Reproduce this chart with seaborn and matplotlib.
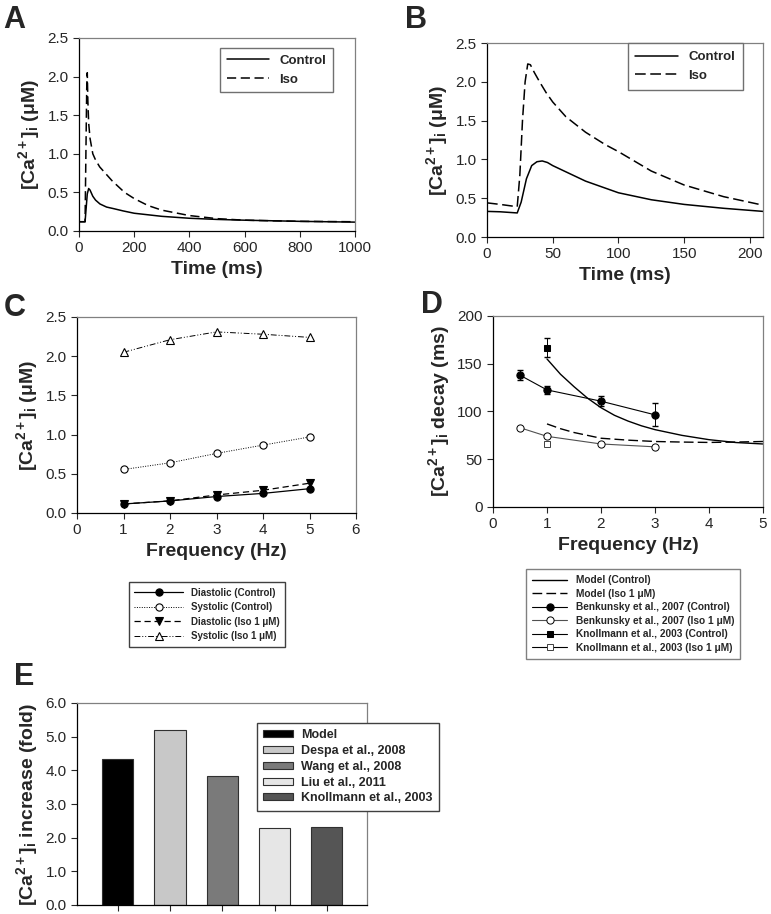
import numpy as np
import matplotlib
matplotlib.use('Agg')
import matplotlib.pyplot as plt
import seaborn as sns

# ---- panel A: transient at 1 Hz ----
tA_ctrl = [0, 22, 26, 30, 35, 40, 50, 60, 76, 100, 125, 160, 200, 300, 400, 500, 600, 800, 1000]
caA_ctrl = [0.12, 0.12, 0.30, 0.48, 0.55, 0.53, 0.45, 0.40, 0.35, 0.31, 0.29, 0.26, 0.23, 0.19, 0.165, 0.15, 0.14, 0.125, 0.115]
tA_iso = [0, 22, 25, 28, 30, 32, 35, 40, 50, 60, 75, 95, 120, 165, 200, 250, 300, 400, 500, 600, 800, 1000]
caA_iso = [0.12, 0.12, 1.0, 1.85, 2.05, 1.70, 1.40, 1.20, 1.00, 0.92, 0.83, 0.75, 0.65, 0.50, 0.42, 0.33, 0.27, 0.20, 0.16, 0.14, 0.125, 0.12]

# ---- panel B: zoomed transient ----
tB_ctrl = [0, 10, 23, 26, 30, 34, 38, 42, 46, 50, 60, 75, 100, 125, 150, 180, 210]
caB_ctrl = [0.33, 0.325, 0.31, 0.45, 0.75, 0.92, 0.97, 0.98, 0.96, 0.92, 0.84, 0.72, 0.57, 0.48, 0.42, 0.37, 0.33]
tB_iso = [0, 10, 23, 25, 27, 29, 31, 33, 36, 40, 45, 50, 60, 75, 90, 100, 125, 150, 180, 210]
caB_iso = [0.44, 0.42, 0.39, 0.80, 1.50, 2.00, 2.23, 2.22, 2.12, 2.00, 1.86, 1.74, 1.55, 1.35, 1.19, 1.10, 0.85, 0.67, 0.52, 0.41]

# ---- panel C: frequency dependence ----
freqC = [1, 2, 3, 4, 5]
dia_ctrl = [0.115, 0.154, 0.21, 0.25, 0.31]
sys_ctrl = [0.555, 0.64, 0.76, 0.866, 0.97]
dia_iso = [0.115, 0.155, 0.23, 0.29, 0.38]
sys_iso = [2.05, 2.21, 2.31, 2.28, 2.24]

# ---- panel D: decay time ----
freq_model = [1, 1.25, 1.5, 1.75, 2, 2.25, 2.5, 2.75, 3, 3.5, 4, 4.5, 5]
tau_model_ctrl = [155, 139, 126, 114, 104, 96, 90, 85, 81, 75, 70.5, 67.5, 66]
tau_model_iso = [87, 82, 78, 75, 72, 71, 70, 69.3, 68.6, 68, 67.6, 68, 68.6]
freq_benk = [0.5, 1, 2, 3]
tau_benk_ctrl = [138, 122.6, 110.8, 96.5]
err_benk_ctrl = [5, 4, 5, 12]
tau_benk_iso = [83, 74, 66, 63]
freq_knoll = [1]
tau_knoll_ctrl = [167]
err_knoll_ctrl = [10]
tau_knoll_iso = [66]

# ---- panel E: fold increase ----
studies = ['Model', 'Despa et al., 2008', 'Wang et al., 2008', 'Liu et al., 2011', 'Knollmann et al., 2003']
fold = [4.33, 5.2, 3.82, 2.3, 2.33]
bar_colors = ['#000000', '#c8c8c8', '#7a7a7a', '#e6e6e6', '#555555']

sns.set_style('ticks')
plt.rcParams['font.family'] = ['Liberation Sans', 'DejaVu Sans']
plt.rcParams['mathtext.fontset'] = 'custom'
plt.rcParams['mathtext.rm'] = 'Liberation Sans:bold'
plt.rcParams['mathtext.it'] = 'Liberation Sans:bold'
plt.rcParams['mathtext.bf'] = 'Liberation Sans:bold'
plt.rcParams['mathtext.default'] = 'bf'

fig = plt.figure(figsize=(7.71, 9.14), dpi=100)
W, H = 771, 914

def add_ax(l, t, r, b):
    return fig.add_axes([l / W, 1 - b / H, (r - l) / W, (b - t) / H])

def style(ax):
    for s in ['top', 'right']:
        ax.spines[s].set_color('#808080')
    for s in ['left', 'bottom']:
        ax.spines[s].set_color('black')
    for s in ax.spines.values():
        s.set_linewidth(0.9)
    ax.tick_params(direction='out', length=4, width=0.8, labelsize=11, top=False, right=False)

ylab = '[Ca$^{2+}$]$_i$ (\u03bcM)'
lab_kw = dict(fontsize=14, fontweight='bold')
fmt1 = matplotlib.ticker.FormatStrFormatter('%.1f')

# A
axA = add_ax(79, 38, 355, 231)
sns.lineplot(x=tA_ctrl, y=caA_ctrl, ax=axA, color='black', lw=1.1, label='Control')
sns.lineplot(x=tA_iso, y=caA_iso, ax=axA, color='black', lw=1.1, linestyle=(0, (6, 3)), label='Iso')
axA.set_xlim(0, 1000); axA.set_ylim(0, 2.5)
axA.set_yticks(np.arange(0, 2.51, 0.5))
axA.yaxis.set_major_formatter(fmt1)
axA.set_xlabel('Time (ms)', **lab_kw); axA.set_ylabel(ylab, **lab_kw)
axA.legend(loc='upper right', bbox_to_anchor=(333 / W, 1 - 48 / H), bbox_transform=fig.transFigure,
           frameon=True, fancybox=False, edgecolor='#707070', framealpha=1, borderaxespad=0,
           prop={'weight': 'bold', 'size': 9.5}, handlelength=3.2, borderpad=0.5)
style(axA)

# B
axB = add_ax(487, 43, 763, 237)
sns.lineplot(x=tB_ctrl, y=caB_ctrl, ax=axB, color='black', lw=1.1, label='Control')
sns.lineplot(x=tB_iso, y=caB_iso, ax=axB, color='black', lw=1.1, linestyle=(0, (7, 3)), label='Iso')
axB.set_xlim(0, 210); axB.set_ylim(0, 2.5)
axB.set_xticks([0, 50, 100, 150, 200])
axB.set_yticks(np.arange(0, 2.51, 0.5))
axB.yaxis.set_major_formatter(fmt1)
axB.set_xlabel('Time (ms)', **lab_kw); axB.set_ylabel(ylab, **lab_kw)
axB.legend(loc='upper right', bbox_to_anchor=(743 / W, 1 - 43 / H), bbox_transform=fig.transFigure,
           frameon=True, fancybox=False, edgecolor='#707070', framealpha=1, borderaxespad=0,
           prop={'weight': 'bold', 'size': 9.5}, handlelength=3.2, borderpad=0.6)
style(axB)

# C
axC = add_ax(77, 317, 356, 513)
mk = dict(markersize=5.2, markeredgecolor='black', markeredgewidth=0.8)
sns.lineplot(x=freqC, y=dia_ctrl, ax=axC, color='black', lw=0.9, marker='o', markerfacecolor='black',
             label='Diastolic (Control)', **mk)
sns.lineplot(x=freqC, y=sys_ctrl, ax=axC, color='black', lw=0.7, linestyle=(0, (1, 1.5)), marker='o',
             markerfacecolor='white', label='Systolic (Control)', **mk)
sns.lineplot(x=freqC, y=dia_iso, ax=axC, color='black', lw=0.9, linestyle=(0, (5, 3)), marker='v',
             markerfacecolor='black', label='Diastolic (Iso 1 \u03bcM)', **mk)
sns.lineplot(x=freqC, y=sys_iso, ax=axC, color='black', lw=0.7, linestyle=(0, (6, 2, 1, 2, 1, 2)), marker='^',
             markerfacecolor='white', label='Systolic (Iso 1 \u03bcM)', **mk)
axC.set_xlim(0, 6); axC.set_ylim(0, 2.5)
axC.set_xticks(range(7))
axC.set_yticks(np.arange(0, 2.51, 0.5))
axC.yaxis.set_major_formatter(fmt1)
axC.set_xlabel('Frequency (Hz)', **lab_kw); axC.set_ylabel(ylab, **lab_kw)
axC.legend(loc='upper center', bbox_to_anchor=(207 / W, 1 - 582 / H), bbox_transform=fig.transFigure,
           frameon=True, fancybox=False, edgecolor='#404040', framealpha=1, borderaxespad=0,
           prop={'weight': 'bold', 'size': 7}, handlelength=5, borderpad=0.6, labelspacing=0.45)
style(axC)

# D
axD = add_ax(493, 316, 763, 507)
sns.lineplot(x=freq_model, y=tau_model_ctrl, ax=axD, color='black', lw=1.0, label='Model (Control)')
sns.lineplot(x=freq_model, y=tau_model_iso, ax=axD, color='black', lw=1.0, linestyle=(0, (7, 3)),
             label='Model (Iso 1 \u03bcM)')
axD.errorbar(freq_benk, tau_benk_ctrl, yerr=err_benk_ctrl, fmt='none', ecolor='black', elinewidth=0.7, capsize=2.5)
axD.errorbar(freq_knoll, tau_knoll_ctrl, yerr=err_knoll_ctrl, fmt='none', ecolor='black', elinewidth=0.7, capsize=2.5)
sns.lineplot(x=freq_benk, y=tau_benk_ctrl, ax=axD, color='black', lw=0.8, marker='o', markerfacecolor='black',
             label='Benkunsky et al., 2007 (Control)', **mk)
sns.lineplot(x=freq_benk, y=tau_benk_iso, ax=axD, color='#505050', lw=0.8, marker='o', markerfacecolor='white',
             label='Benkunsky et al., 2007 (Iso 1 \u03bcM)', markersize=5.2, markeredgecolor='black', markeredgewidth=0.7)
sns.lineplot(x=freq_knoll, y=tau_knoll_ctrl, ax=axD, color='black', lw=0.8, marker='s', markerfacecolor='black',
             label='Knollmann et al., 2003 (Control)', markersize=4.5, markeredgecolor='black')
sns.lineplot(x=freq_knoll, y=tau_knoll_iso, ax=axD, color='black', lw=0.8, marker='s', markerfacecolor='white',
             label='Knollmann et al., 2003 (Iso 1 \u03bcM)', markersize=4.5, markeredgecolor='#404040', markeredgewidth=0.7)
axD.set_xlim(0, 5); axD.set_ylim(0, 200)
axD.set_xticks(range(6))
axD.set_yticks(range(0, 201, 50))
axD.set_xlabel('Frequency (Hz)', **lab_kw)
axD.set_ylabel('[Ca$^{2+}$]$_i$ decay (ms)', **lab_kw)
axD.legend(loc='upper center', bbox_to_anchor=(633 / W, 1 - 569 / H), bbox_transform=fig.transFigure,
           frameon=True, fancybox=False, edgecolor='#808080', framealpha=1, borderaxespad=0,
           prop={'weight': 'bold', 'size': 7.3}, handlelength=3.5, borderpad=0.6, labelspacing=0.35)
style(axD)

# E
axE = add_ax(77, 703, 367, 905)
sns.barplot(x=studies, y=fold, hue=studies, palette=bar_colors, ax=axE, width=0.6, dodge=False,
            edgecolor='#303030', linewidth=0.8, legend=True)
axE.set_xlim(-0.78, 4.77); axE.set_ylim(0, 6)
axE.set_yticks(np.arange(0, 6.01, 1))
axE.yaxis.set_major_formatter(fmt1)
axE.set_xticklabels([])
axE.set_xlabel('')
axE.set_ylabel('[Ca$^{2+}$]$_i$ increase (fold)', **lab_kw)
axE.legend(loc='upper left', bbox_to_anchor=(257 / W, 1 - 723 / H), bbox_transform=fig.transFigure,
           frameon=True, fancybox=False, edgecolor='#404040', framealpha=1, borderaxespad=0,
           prop={'weight': 'bold', 'size': 9}, handlelength=2.4, handleheight=0.5, handletextpad=0.6,
           borderpad=0.5, labelspacing=0.3)
style(axE)

# panel letters
for letter, (x, y) in {'A': (3, 5), 'B': (405, 5), 'C': (4, 293), 'D': (421, 290), 'E': (14, 662)}.items():
    fig.text(x / W, 1 - y / H, letter, fontsize=22, fontweight='bold', ha='left', va='top')

fig.savefig('out.png', dpi=100)
